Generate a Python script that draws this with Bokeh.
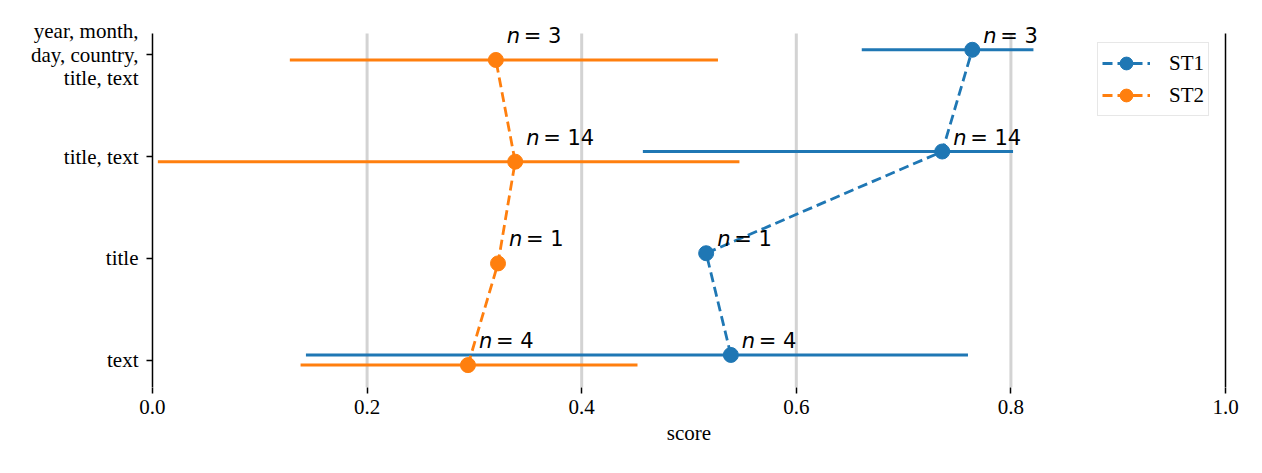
import numpy as np
from bokeh.plotting import figure
from bokeh.models import (ColumnDataSource, Range1d, FixedTicker,
                          Legend, LegendItem, NumeralTickFormatter, LabelSet)
from bokeh.core.properties import value
from bokeh.transform import dodge
from bokeh.embed import file_html
from bokeh.resources import INLINE

nan = float("nan")

# ---- data ----
categories = ["text", "title", "title, text", "year, month,\nday, country,\ntitle, text"]
n_items = [4, 1, 14, 3]
st1_mean = [0.539, 0.516, 0.736, 0.764]
st1_low = [0.143, nan, 0.457, 0.661]
st1_high = [0.760, nan, 0.802, 0.821]
st2_mean = [0.294, 0.322, 0.338, 0.320]
st2_low = [0.138, nan, 0.005, 0.128]
st2_high = [0.452, nan, 0.547, 0.527]
x_ticks = [0.0, 0.2, 0.4, 0.6, 0.8, 1.0]
grid_ticks = [0.2, 0.4, 0.6, 0.8]
spine_pos = [0.0, 1.0]
series = [("ST1", st1_mean, st1_low, st1_high, "#1f77b4", 0.05),
          ("ST2", st2_mean, st2_low, st2_high, "#ff7f0e", -0.05)]

SERIF = "Liberation Serif"
FS = "21px"

Y0, Y1 = -0.27, 3.21      # extent of the axes box (spines / grid)
PAD = 0.00186             # 2px of slack so spines are not clipped

p = figure(width=1254, height=465,
           x_range=Range1d(-PAD, 1 + PAD), y_range=Range1d(Y0, 3.338),
           output_backend="svg", toolbar_location=None,
           min_border_left=150, min_border_right=27, min_border_top=20, min_border_bottom=78)
p.outline_line_color = None
p.background_fill_color = "white"
p.border_fill_color = "white"

# x axis
p.xaxis.ticker = FixedTicker(ticks=x_ticks)
p.xaxis.formatter = NumeralTickFormatter(format="0.0")
p.xaxis.axis_line_color = None
p.xaxis.major_tick_in = 0
p.xaxis.major_tick_out = 6
p.xaxis.major_tick_line_width = 1.5
p.xaxis.minor_tick_line_color = None
p.xaxis.major_label_standoff = 6
p.xaxis.major_label_text_font = SERIF
p.xaxis.major_label_text_font_size = FS
p.xaxis.major_label_text_color = "black"
p.xaxis.axis_label = "score"
p.xaxis.axis_label_text_font = SERIF
p.xaxis.axis_label_text_font_size = FS
p.xaxis.axis_label_text_font_style = "normal"
p.xaxis.axis_label_text_color = "black"
p.xaxis.axis_label_standoff = 4

# y axis
p.yaxis.ticker = FixedTicker(ticks=list(range(len(categories))))
p.yaxis.major_label_overrides = {i: c for i, c in enumerate(categories)}
p.yaxis.axis_line_color = None
p.yaxis.major_tick_in = 2
p.yaxis.major_tick_out = 4
p.yaxis.major_tick_line_width = 1.5
p.yaxis.minor_tick_line_color = None
p.yaxis.major_label_standoff = 8
p.yaxis.major_label_text_font = SERIF
p.yaxis.major_label_text_font_size = FS
p.yaxis.major_label_text_color = "black"
p.yaxis.major_label_text_line_height = 0.98

p.xgrid.visible = False
p.ygrid.visible = False

# grid lines and spines limited to the axes box
grid_src = ColumnDataSource(dict(x=grid_ticks, y0=[Y0] * len(grid_ticks), y1=[Y1] * len(grid_ticks)))
p.segment(x0="x", y0="y0", x1="x", y1="y1", source=grid_src, line_color="#d3d3d3", line_width=3)

legend_items = []
for name, mean, low, high, color, off in series:
    src = ColumnDataSource(dict(
        y=list(range(len(categories))), mean=mean, low=low, high=high,
        nlab=["n"] * len(n_items), eqlab=[f"= {n}" for n in n_items]))
    yd = dodge("y", off)
    p.segment(x0="low", y0=yd, x1="high", y1=yd, source=src, line_color=color, line_width=3)
    ln = p.line(x="mean", y=yd, source=src, line_color=color, line_width=2.8, line_dash="10 5")
    sc = p.scatter(x="mean", y=yd, source=src, size=15, fill_color=color, line_color=color)
    p.add_layout(LabelSet(x="mean", y="y", text="nlab", source=src, x_offset=11, y_offset=12,
                          text_font=value("DejaVu Sans"), text_font_style="italic",
                          text_font_size=FS, text_baseline="alphabetic", text_align="left",
                          text_color="black"))
    p.add_layout(LabelSet(x="mean", y="y", text="eqlab", source=src, x_offset=28, y_offset=12,
                          text_font=value("DejaVu Sans"), text_font_size=FS,
                          text_baseline="alphabetic", text_align="left", text_color="black"))
    legend_items.append(LegendItem(label=name, renderers=[ln, sc]))

spine_src = ColumnDataSource(dict(x=spine_pos, y0=[Y0] * 2, y1=[Y1] * 2))
p.segment(x0="x", y0="y0", x1="x", y1="y1", source=spine_src, line_color="black", line_width=1.5)

legend = Legend(items=legend_items, location=(947, 271),
                label_text_font=SERIF, label_text_font_size=FS, label_text_color="black",
                glyph_width=48, glyph_height=32, label_height=32, label_standoff=19,
                spacing=0, padding=4, margin=0,
                border_line_color="#d0d0d0", border_line_width=1,
                background_fill_color="white", background_fill_alpha=0.8)
p.add_layout(legend, "center")

open("out.html", "w").write(file_html(p, INLINE))
